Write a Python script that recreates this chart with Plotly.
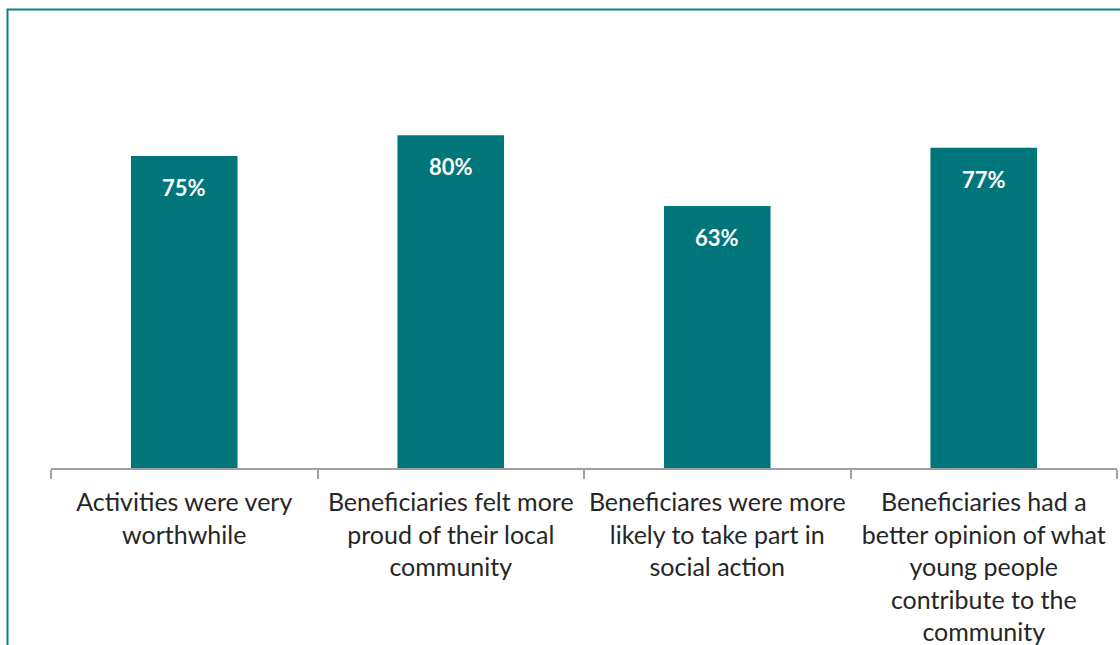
import plotly.graph_objects as go

categories = [
    "Activities were very<br>worthwhile",
    "Beneficiaries felt more<br>proud of their local<br>community",
    "Beneficiares were more<br>likely to take part in<br>social action",
    "Beneficiaries had a<br>better opinion of what<br>young people<br>contribute to the<br>community",
]
values = [0.75, 0.80, 0.63, 0.77]
labels = ["75%", "80%", "63%", "77%"]

W, H = 1120, 645
L, R, T, B = 51, 3, 52, 177
TEAL = "#00767B"

fig = go.Figure()
fig.add_trace(go.Bar(
    x=categories, y=values, marker_color=TEAL, width=0.4,
    marker_line_width=0, hoverinfo="skip", showlegend=False,
))
for c, v, t in zip(categories, values, labels):
    fig.add_annotation(x=c, y=v, text=f"<b>{t}</b>", showarrow=False,
                       yanchor="top", yshift=-16,
                       font=dict(family="Lato, sans-serif", size=22, color="white"))

pw = W - L - R
ph = H - T - B
def px_x(px):
    return (px - L) / pw
def px_y(py):
    return (H - B - py) / ph
fig.add_shape(type="rect", xref="paper", yref="paper",
              x0=px_x(7.5), x1=px_x(W + 20),
              y0=px_y(H + 20), y1=px_y(9.5),
              line=dict(color="#0E8084", width=2), layer="below")

fig.update_layout(
    width=W, height=H, margin=dict(l=L, r=R, t=T, b=B),
    plot_bgcolor="white", paper_bgcolor="white",
    xaxis=dict(
        type="category", tickson="boundaries", ticks="outside", ticklen=9,
        tickcolor="#A0A0A0", tickwidth=2, showline=True, linecolor="#A0A0A0", linewidth=2,
        showgrid=False, tickfont=dict(family="Lato, sans-serif", size=25, color="#262626"),
        ticklabelstandoff=11, tickangle=0, automargin=False,
    ),
    yaxis=dict(range=[0, 1], visible=False, automargin=False),
    font=dict(family="Lato, sans-serif"),
)
fig.write_html("out.html")
